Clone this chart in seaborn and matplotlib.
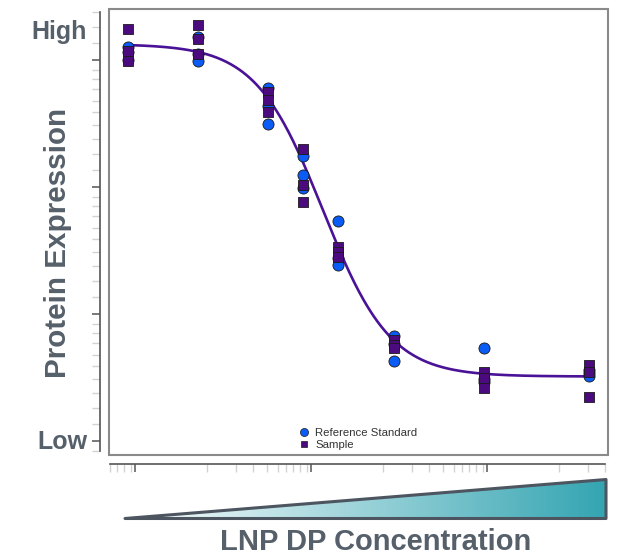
import numpy as np
import pandas as pd
import matplotlib
matplotlib.use("Agg")
import matplotlib.pyplot as plt
import seaborn as sns
from matplotlib.patches import Rectangle, Polygon
from matplotlib.lines import Line2D
from matplotlib.ticker import FixedLocator, NullFormatter
from matplotlib.colors import LinearSegmentedColormap

# ---------------- data ----------------
concentrations = [0.912, 2.28, 5.70, 9.01, 14.2, 29.6, 96.1, 380.0]
ref_values = [
    [3.102, 3.063, 3.000],
    [3.181, 3.047, 2.992],
    [2.780, 2.638, 2.496],
    [2.244, 2.094, 1.992],
    [1.732, 1.441, 1.386],
    [0.827, 0.764, 0.630],
    [0.732, 0.488, 0.465],
    [0.559, 0.535, 0.512],
]
sample_values = [
    [3.244, 3.071, 2.992],
    [3.276, 3.165, 3.047],
    [2.748, 2.685, 2.591],
    [2.299, 2.016, 1.882],
    [1.528, 1.488, 1.449],
    [0.795, 0.756, 0.732],
    [0.543, 0.496, 0.417],
    [0.598, 0.543, 0.346],
]
series_names = ["Reference Standard", "Sample"]
# 4-parameter logistic fit shown as the curve
fit_top = 3.126
fit_bottom = 0.508
fit_log_ec50 = 1.068
fit_hill = 2.27
y_tick_labels = ["Low", "High"]
x_title = "LNP DP Concentration"
y_title = "Protein Expression"

# ---------------- style ----------------
blue = "#0a5cf5"
purple = "#4b0a7d"
curve_color = "#4a1296"
text_gray = "#56606a"
axis_gray = "#555555"
minor_gray = "#d2d2d2"
frame_gray = "#8a8a8a"

sns.set_style("white")
plt.rcParams["font.family"] = ["Liberation Sans", "DejaVu Sans"]

rows = []
for c, vals in zip(concentrations, ref_values):
    for v in vals:
        rows.append((c, v, series_names[0]))
for c, vals in zip(concentrations, sample_values):
    for v in vals:
        rows.append((c, v, series_names[1]))
df = pd.DataFrame(rows, columns=["conc", "value", "series"])

curve_x = np.logspace(np.log10(concentrations[0]), np.log10(concentrations[-1]), 400)
curve_y = fit_bottom + (fit_top - fit_bottom) / (1 + 10 ** (fit_hill * (np.log10(curve_x) - fit_log_ec50)))

W, H = 621, 557
fig = plt.figure(figsize=(W / 100, H / 100), dpi=100)
ax = fig.add_axes([109 / W, 1 - 455 / H, (608 - 109) / W, (455 - 9) / H])

sns.lineplot(x=curve_x, y=curve_y, color=curve_color, lw=1.9, ax=ax, zorder=2, sort=True)
sns.scatterplot(data=df[df.series == series_names[0]], x="conc", y="value", marker="o",
                s=64, color=blue, edgecolor="#1a1a1a", linewidth=0.6, ax=ax, zorder=3,
                legend=False)
sns.scatterplot(data=df[df.series == series_names[1]], x="conc", y="value", marker="s",
                s=52, color=purple, edgecolor="#1a1a1a", linewidth=0.6, ax=ax, zorder=4,
                legend=False)

ax.set_xscale("log")
ax.set_xlim(0.711, 487.5)
ax.set_ylim(-0.110, 3.402)
ax.set_xlabel("")
ax.set_ylabel("")

# ticks
x_minor_fracs = [0.409, 0.574, 0.673, 0.75, 0.81, 0.858, 0.898, 0.938, 0.977]
y_minor_fracs = [0.134, 0.26, 0.378, 0.488, 0.591, 0.677, 0.772, 0.850, 0.921]
ax.xaxis.set_major_locator(FixedLocator([1, 10, 100]))
xm = [10 ** (k + f) for k in range(-1, 3) for f in x_minor_fracs]
xm = [v for v in xm if 0.715 <= v <= 475]
ax.xaxis.set_minor_locator(FixedLocator(xm))
ax.yaxis.set_major_locator(FixedLocator([0, 1, 2, 3]))
ym = [k + f for k in range(-1, 4) for f in y_minor_fracs]
ym = [v for v in ym if -0.095 <= v <= 3.39]
ax.yaxis.set_minor_locator(FixedLocator(ym))
ax.xaxis.set_major_formatter(NullFormatter())
ax.xaxis.set_minor_formatter(NullFormatter())
ax.yaxis.set_major_formatter(NullFormatter())
ax.yaxis.set_minor_formatter(NullFormatter())
ax.tick_params(which="both", bottom=True, left=True, top=False, right=False,
               labelbottom=False, labelleft=False)
ax.tick_params(which="major", direction="out", length=6.0, width=1.1, color=axis_gray)
ax.tick_params(which="minor", direction="out", length=6.0, width=1.0, color=minor_gray)

for s in ["top", "right"]:
    ax.spines[s].set_visible(False)
ax.spines["left"].set_position(("outward", 6.3))
ax.spines["bottom"].set_position(("outward", 6.6))
ax.spines["left"].set_bounds(min(ym), max(ym))
ax.spines["bottom"].set_bounds(min(xm), max(xm))
for s in ["left", "bottom"]:
    ax.spines[s].set_color(axis_gray)
    ax.spines[s].set_linewidth(1.2)

ax.add_patch(Rectangle((0, 0), 1, 1, transform=ax.transAxes, fill=False,
                       ec=frame_gray, lw=1.5, clip_on=False, zorder=6))

# legend
handles = [
    Line2D([], [], marker="o", ls="", color=blue, mec="#1a1a1a", mew=0.5, ms=5.8,
           label=series_names[0]),
    Line2D([], [], marker="s", ls="", color=purple, mec="#1a1a1a", mew=0.5, ms=5.0,
           label=series_names[1]),
]
leg = ax.legend(handles=handles, loc="lower center", frameon=False, fontsize=8.2,
                handlelength=0.8, handletextpad=0.6, labelspacing=0.2,
                borderaxespad=0.1, borderpad=0.3)
for t in leg.get_texts():
    t.set_color("#333333")

# axis texts
fig.text(87 / W, 1 - 39 / H, y_tick_labels[1], ha="right", va="baseline",
         fontsize=18, fontweight="bold", color=text_gray)
fig.text(87 / W, 1 - 449 / H, y_tick_labels[0], ha="right", va="baseline",
         fontsize=18, fontweight="bold", color=text_gray)
fig.text(58 / W, 1 - 243 / H, y_title, ha="center", va="center", rotation=90,
         fontsize=21.3, fontweight="bold", color=text_gray)
fig.text(376 / W, 1 - 550 / H, x_title, ha="center", va="baseline",
         fontsize=21, fontweight="bold", color=text_gray)

# concentration wedge
axw = fig.add_axes([125 / W, 1 - 518.5 / H, (606 - 125) / W, 39 / H])
axw.set_xlim(0, 1)
axw.set_ylim(0, 1)
axw.axis("off")
cmap = LinearSegmentedColormap.from_list("wedge", ["#ffffff", "#34a5b2"])
grad = np.linspace(0, 1, 256).reshape(1, -1)
im = axw.imshow(grad, extent=[0, 1, 0, 1], aspect="auto", cmap=cmap, origin="lower")
clip = Polygon([[0, 0], [1, 0], [1, 1]], closed=True, transform=axw.transData)
im.set_clip_path(clip)
axw.add_patch(Polygon([[0, 0], [1, 0], [1, 1]], closed=True, fill=False,
                      ec="#4d5560", lw=2.2, joinstyle="round", clip_on=False))

fig.savefig("out.png", dpi=100)
